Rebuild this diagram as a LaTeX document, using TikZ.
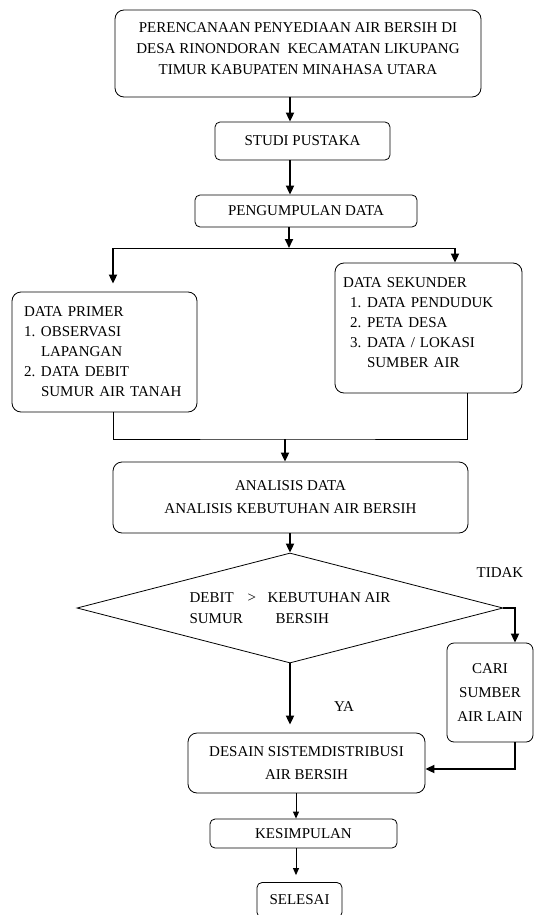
\documentclass[tikz,border=0pt]{standalone}
\usepackage{fontspec}
\setmainfont{Liberation Serif}
\usetikzlibrary{shapes.geometric, arrows.meta, calc}

\begin{document}
\begin{tikzpicture}[x=1pt, y=-1pt,
    every node/.style={font=\fontsize{15}{21}\selectfont, inner sep=0pt},
    box/.style={draw, rounded corners=9pt, line width=0.8pt, align=center},
    smallbox/.style={draw, rounded corners=5pt, line width=0.8pt, align=center},
    arr/.style={line width=1.8pt, -{Triangle[length=9pt,width=8pt]}},
    thinarr/.style={line width=0.9pt, -{Triangle[length=7pt,width=6pt]}},
    link/.style={line width=0.9pt}]
    \useasboundingbox (0,0) rectangle (537,915);
    % Main boxes
    \node[box, minimum width=366pt, minimum height=87pt] (judul) at (298,53.5)
        {PERENCANAAN PENYEDIAAN AIR BERSIH DI\\ DESA RINONDORAN\ \ KECAMATAN LIKUPANG\\ TIMUR KABUPATEN MINAHASA UTARA\\[-11pt]\mbox{}};
    \node[smallbox, minimum width=175pt, minimum height=38pt] (studi) at (302.5,141) {STUDI PUSTAKA};
    \node[smallbox, minimum width=222pt, minimum height=32pt] (kumpul) at (306,211) {PENGUMPULAN DATA};
    % Data boxes (left aligned lists)
    \node[box, minimum width=185pt, minimum height=120pt, text width=161pt, inner xsep=12pt, align=left,
        font=\fontsize{15}{20}\selectfont] (primer) at (104.5,352)
        {DATA PRIMER\\ \makebox[17pt][l]{1.}OBSERVASI\\ \hspace*{17pt}LAPANGAN\\
         \makebox[17pt][l]{2.}DATA DEBIT\\ \hspace*{17pt}SUMUR AIR TANAH};
    \node[box, minimum width=187pt, minimum height=130pt, text width=171pt, inner xsep=8pt, align=left,
        font=\fontsize{15}{20}\selectfont] (sekunder) at (428.5,328)
        {DATA SEKUNDER\\ \hspace*{7pt}\makebox[17pt][l]{1.}DATA PENDUDUK\\ \hspace*{7pt}\makebox[17pt][l]{2.}PETA DESA\\
         \hspace*{7pt}\makebox[17pt][l]{3.}DATA / LOKASI\\ \hspace*{24pt}SUMBER AIR\\[-10pt]\mbox{}};
    \node[box, minimum width=355pt, minimum height=71pt] (analisis) at (290.5,497.5)
        {ANALISIS DATA\\[2pt] ANALISIS KEBUTUHAN AIR BERSIH};
    % Decision
    \node[diamond, draw, line width=0.8pt, aspect=3.87, minimum width=426pt, minimum height=110pt, align=left] (uji) at (290,608)
        {\makebox[58pt][l]{DEBIT}\makebox[20pt][l]{>}KEBUTUHAN AIR\\ \makebox[86pt][l]{SUMUR}BERSIH};
    \node[box, rounded corners=7pt, minimum width=86pt, minimum height=99pt] (cari) at (490,692.5)
        {CARI\\[3pt] SUMBER\\[3pt] AIR LAIN};
    \node[box, minimum width=237pt, minimum height=60pt] (desain) at (306.5,763)
        {DESAIN SISTEMDISTRIBUSI\\[2pt] AIR BERSIH};
    \node[smallbox, minimum width=187pt, minimum height=29pt] (simpul) at (303.5,833.5) {KESIMPULAN};
    \node[smallbox, minimum width=85pt, minimum height=35pt] (selesai) at (299.5,900) {SELESAI};
    % Branch labels
    \node (tidak) at (500,573) {TIDAK};
    \node (ya) at (344,707) {YA};
    % Guide coordinates
    \coordinate (atas) at (290,0);
    \coordinate (cabang) at (289,248);
    \coordinate (kiri) at (113,0);
    \coordinate (kanan) at (455,0);
    \coordinate (kanan2) at (467,0);
    \coordinate (gabung) at (285,439);
    \coordinate (belok) at (515,0);
    \coordinate (bawah) at (296,0);
    % Connectors
    \draw[arr] (judul.south -| atas) -- (studi.north -| atas);
    \draw[arr] (studi.south -| atas) -- (kumpul.north -| atas);
    \draw[arr] (kumpul.south -| cabang) -- (cabang);
    \draw[link] (cabang -| kiri) -- (cabang -| kanan);
    \draw[arr, shorten >=8pt] (cabang -| kiri) -- (primer.north -| kiri);
    \draw[arr] (cabang -| kanan) -- (sekunder.north -| kanan);
    \draw[link] (primer.south -| kiri) |- (gabung) -| (sekunder.south -| kanan2);
    \draw[arr] (gabung) -- (analisis.north -| gabung);
    \draw[arr] (analisis.south -| uji.north) -- (uji.north);
    \draw[arr, shorten >=8pt] (uji.south) -- (desain.north -| uji.south);
    \draw[arr] (uji.east) -| (cari.north -| belok);
    \draw[arr] (cari.south -| belok) |- ($(desain.east)+(0,6)$);
    \draw[thinarr] (desain.south -| bawah) -- (simpul.north -| bawah);
    \draw[thinarr, shorten >=7pt] (simpul.south -| bawah) -- (selesai.north -| bawah);
\end{tikzpicture}
\end{document}
